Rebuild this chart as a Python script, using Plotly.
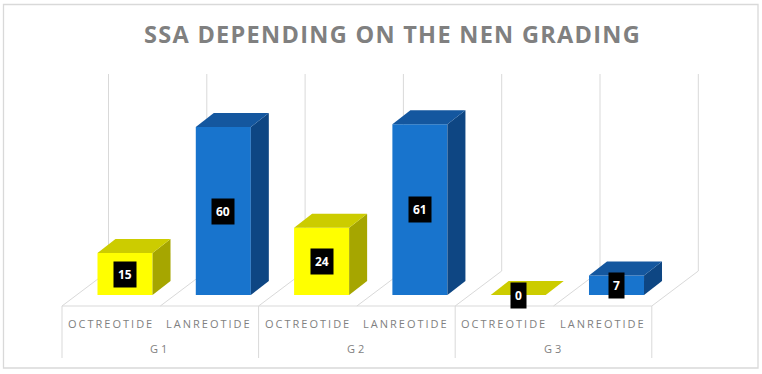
import plotly.graph_objects as go

# ---------------- data ----------------
groups = ["G1", "G2", "G3"]
drugs = ["OCTREOTIDE", "LANREOTIDE"]
octreotide = [15, 24, 0]
lanreotide = [60, 61, 7]
title_text = "SSA DEPENDING ON THE NEN GRADING"

# ---------------- styling / geometry ----------------
W, H = 762, 374
X0, SX = 62.0, 98.3      # pixel of category boundary 0, px per category
Y0, SY = 295.0, 2.8      # pixel of value 0 (bar base), px per unit

def vx(px):  # pixel -> x data
    return (px - X0) / SX

def vy(py):  # pixel -> y data
    return (Y0 - py) / SY

colors = {
    "OCTREOTIDE": dict(front="#FFFF00", top="#CCCC00", side="#A6A600"),
    "LANREOTIDE": dict(front="#1874CD", top="#14579F", side="#0E4683"),
}

bar_off = 0.641          # bar centre within a category slot
bar_w = 0.56
ddx = 18 / SX            # bar depth in x units
ddv = 14 / SY            # bar depth in value units
floor_front = vy(306)
floor_back = vy(271)
floor_dx = 46.5 / SX
grid_top = vy(74)
label_grey = "#7F7F7F"
line_grey = "#D9D9D9"

fig = go.Figure()

cats, vals = [], []
for g, o, l in zip(groups, octreotide, lanreotide):
    cats += [(g, "OCTREOTIDE"), (g, "LANREOTIDE")]
    vals += [o, l]
n = len(cats)

shapes = []
for i in range(n + 1):
    shapes.append(dict(type="line", xref="x", yref="y", layer="below",
                       x0=i + floor_dx, x1=i + floor_dx, y0=floor_back, y1=grid_top,
                       line=dict(color=line_grey, width=1)))
    shapes.append(dict(type="line", xref="x", yref="y", layer="below",
                       x0=i, x1=i + floor_dx, y0=floor_front, y1=floor_back,
                       line=dict(color=line_grey, width=1)))
shapes.append(dict(type="line", xref="x", yref="y", layer="below",
                   x0=0, x1=n, y0=floor_front, y1=floor_front,
                   line=dict(color=line_grey, width=1)))
for gi in range(len(groups) + 1):
    shapes.append(dict(type="line", xref="x", yref="y", layer="below",
                       x0=2 * gi, x1=2 * gi, y0=floor_front, y1=vy(358),
                       line=dict(color=line_grey, width=1)))
shapes.append(dict(type="rect", xref="paper", yref="paper", layer="below",
                   x0=3.5 / W, x1=758 / W, y0=1 - 368 / H, y1=1 - 4.5 / H,
                   line=dict(color=line_grey, width=1.3), fillcolor="rgba(0,0,0,0)"))

for drug in drugs:
    xs, ys = [], []
    for i, ((g, d), v) in enumerate(zip(cats, vals)):
        if d == drug:
            xs.append(i + bar_off)
            ys.append(v)
    fig.add_trace(go.Bar(x=xs, y=ys, width=bar_w, marker=dict(color=colors[drug]["front"], line=dict(width=0)),
                         showlegend=False, hoverinfo="skip"))

for i, ((g, d), v) in enumerate(zip(cats, vals)):
    c = colors[d]
    xl = i + bar_off - bar_w / 2
    xr = i + bar_off + bar_w / 2
    if v > 0:
        fig.add_trace(go.Scatter(x=[xr, xr + ddx, xr + ddx, xr, xr], y=[0, ddv, v + ddv, v, 0],
                                 fill="toself", fillcolor=c["side"], mode="lines",
                                 line=dict(width=0, color=c["side"]), showlegend=False, hoverinfo="skip"))
    fig.add_trace(go.Scatter(x=[xl, xr, xr + ddx, xl + ddx, xl], y=[v, v, v + ddv, v + ddv, v],
                             fill="toself", fillcolor=c["top"], mode="lines",
                             line=dict(width=0, color=c["top"]), showlegend=False, hoverinfo="skip"))

annotations = []
for i, v in enumerate(vals):
    annotations.append(dict(x=i + bar_off, y=v / 2, xref="x", yref="y", text=f"<b>{v}</b>",
                            showarrow=False, bgcolor="#000000", borderpad=4,
                            xanchor="center", yanchor="middle",
                            font=dict(family="Open Sans", size=12, color="#FFFFFF")))
for i, (g, d) in enumerate(cats):
    annotations.append(dict(x=i + 0.5, y=vy(323), xref="x", yref="y",
                            text=f'<span style="letter-spacing:2px">{d}</span>',
                            xanchor="center", yanchor="middle",
                            showarrow=False, font=dict(family="Open Sans", size=11, color=label_grey)))
for gi, g in enumerate(groups):
    annotations.append(dict(x=2 * gi + 1, y=vy(348), xref="x", yref="y",
                            text=f'<span style="letter-spacing:3px">{g}</span>',
                            xanchor="center", yanchor="middle",
                            showarrow=False, font=dict(family="Open Sans", size=11, color=label_grey)))
annotations.append(dict(x=392.5 / W, y=1 - 33.5 / H, xref="paper", yref="paper",
                        text=f'<span style="letter-spacing:1.3px">{title_text}</span>',
                        xanchor="center", yanchor="middle",
                        showarrow=False, font=dict(family="Open Sans", size=23.5, color="#808080", weight="bold")))

fig.update_layout(
    width=W, height=H, margin=dict(l=0, r=0, t=0, b=0),
    paper_bgcolor="white", plot_bgcolor="white",
    xaxis=dict(range=[vx(0), vx(W)], visible=False, fixedrange=True),
    yaxis=dict(range=[vy(H), vy(0)], visible=False, fixedrange=True),
    shapes=shapes, annotations=annotations, barmode="overlay",
)

fig.write_html("out.html", config={"displayModeBar": False},
               post_script="document.body.style.margin='0';document.body.style.overflow='hidden';")
